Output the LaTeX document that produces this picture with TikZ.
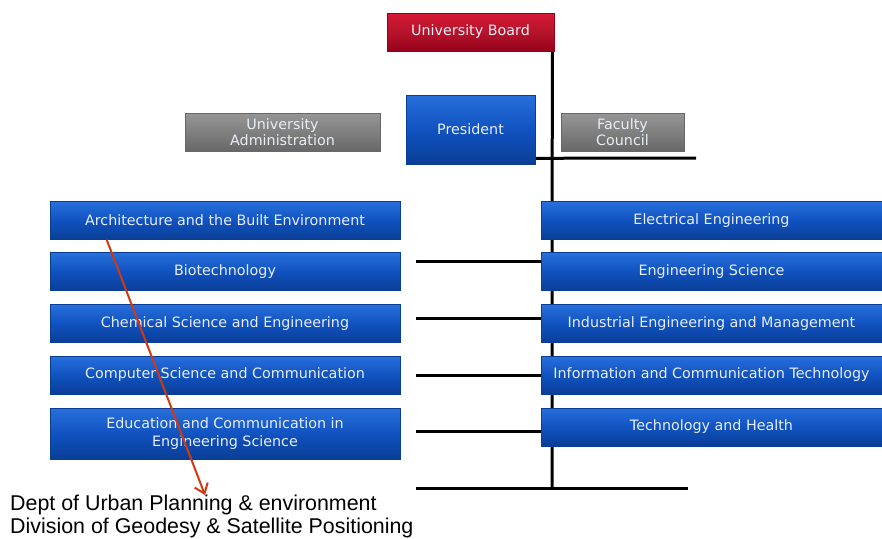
\documentclass[tikz,border=0pt]{standalone}
\usepackage{fontspec}
\setmainfont{DejaVu Sans}
\newfontfamily\arialfont{Liberation Sans}
\usetikzlibrary{arrows.meta,backgrounds}

\definecolor{boxtop}{RGB}{40,112,220}
\definecolor{boxmid}{RGB}{16,82,192}
\definecolor{boxbot}{RGB}{10,62,150}
\definecolor{boardtop}{RGB}{214,24,52}
\definecolor{boardbot}{RGB}{150,0,26}
\definecolor{greytop}{RGB}{150,150,150}
\definecolor{greybot}{RGB}{104,104,104}
\definecolor{boxtext}{RGB}{232,238,246}
\definecolor{arrowred}{RGB}{208,58,16}

\tikzset{
    unit/.style={minimum height=38pt, inner sep=1pt, align=center,
        top color=boxtop, bottom color=boxbot, middle color=boxmid,
        draw=boxbot, line width=0.6pt, text=boxtext, font=\fontsize{14.3}{17.5}\selectfont},
    boardbox/.style={unit, top color=boardtop, bottom color=boardbot, middle color=boardtop!85!black, draw=boardbot},
    greybox/.style={unit, top color=greytop, bottom color=greybot, middle color=greytop!85!black, draw=greybot, font=\fontsize{14.3}{16.5}\selectfont},
    tree/.style={line width=3pt, black},
}

\begin{document}
\begin{tikzpicture}[x=1pt, y=-1pt]
    \useasboundingbox (0,0) rectangle (882,538);
    \node[boardbox, minimum width=167pt] (board) at (470.5,32) {University Board};
    \node[unit, minimum width=129pt, minimum height=69pt] (pres) at (470.5,129.5) {President};
    \node[greybox, minimum width=195pt] (admin) at (282.5,132) {University\\Administration};
    \node[greybox, minimum width=123pt] (council) at (622.5,132) {Faculty\\Council};
    % schools, left column
    \foreach[count=\i] \y/\h/\t in {220.5/38/Architecture and the Built Environment,
            271.5/38/Biotechnology, 323.5/38/Chemical Science and Engineering,
            375/38/Computer Science and Communication,
            433.5/51/{Education and Communication in\\Engineering Science}} {
        \node[unit, minimum width=350pt, minimum height=\h pt] (l\i) at (225,\y) {\t};
    };
    % schools, right column
    \foreach[count=\i] \y/\t in {220.5/Electrical Engineering, 271.5/Engineering Science,
            323.5/Industrial Engineering and Management,
            375/Information and Communication Technology, 427/Technology and Health} {
        \node[unit, minimum width=341pt] (r\i) at (711.5,\y) {\t};
    };
    \node[anchor=north west, align=left, inner sep=0pt,
          font=\arialfont\fontsize{21.4}{23}\selectfont] (units) at (10,495)
        {Dept of Urban Planning \& environment\\Division of Geodesy \& Satellite Positioning};
    \coordinate (bot) at (552,488);
    \begin{scope}[on background layer]
        \draw[tree] ([xshift=-2pt]board.south east) -- (bot);
        \draw[tree] (416,488) -- (bot) -- (688,488);
        \draw[tree] ([yshift=6pt]pres.south east) -- (696,158);
        \foreach \i/\y in {2/261, 3/318, 4/375, 5/431} {
            \draw[tree] (416,\y) -- (r\i.west |- 0,\y);
        };
    \end{scope}
    \draw[arrowred, line width=2pt, -{Straight Barb[length=9pt, width=14pt]}]
        ([xshift=57pt]l1.south west) -- ([xshift=195pt]units.north west);
\end{tikzpicture}
\end{document}
